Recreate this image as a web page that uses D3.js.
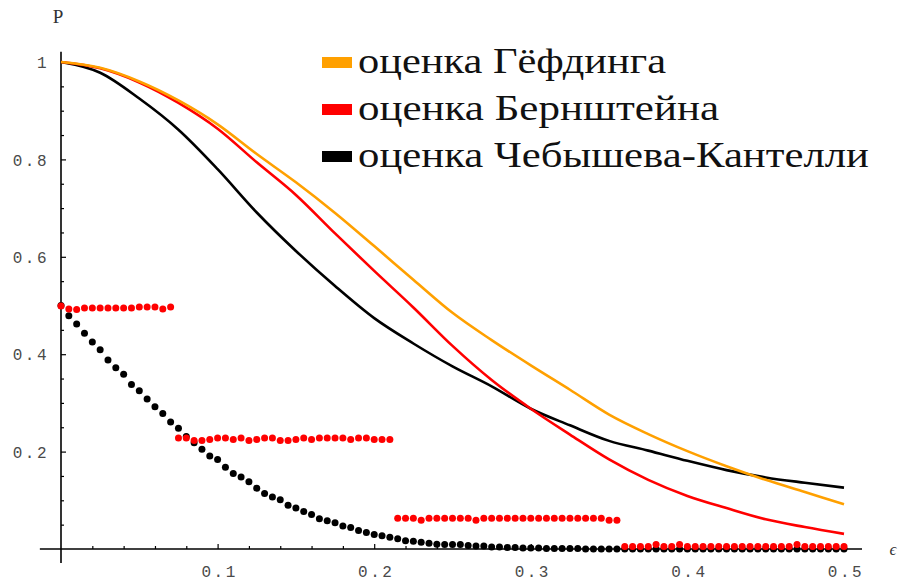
<!DOCTYPE html>
<html>
<head>
<meta charset="utf-8">
<script src="https://cdn.jsdelivr.net/npm/d3@7"></script>
<style>
  body { margin: 0; background: #fff; }
  svg { display: block; }
  .tick text { font-family: "Liberation Mono", "DejaVu Sans Mono", monospace; font-size: 16px; letter-spacing: 2.5px; fill: #4a4a4a; }
</style>
</head>
<body>
<svg id="chart" width="903" height="586"></svg>
<script>
// Bound curves, sampled every 0.025 in epsilon
const epsGrid = [0, 0.025, 0.05, 0.075, 0.1, 0.125, 0.15, 0.175, 0.2, 0.225, 0.25,
                 0.275, 0.3, 0.325, 0.35, 0.375, 0.4, 0.425, 0.45, 0.475, 0.5];
const hoeffding = [1.000, 0.988, 0.960, 0.921, 0.872, 0.811, 0.753, 0.690, 0.622, 0.553, 0.485,
                   0.429, 0.377, 0.327, 0.276, 0.236, 0.201, 0.170, 0.142, 0.117, 0.092];
const bernstein = [1.000, 0.987, 0.958, 0.916, 0.863, 0.794, 0.727, 0.648, 0.571, 0.496, 0.417,
                   0.347, 0.288, 0.235, 0.184, 0.142, 0.109, 0.084, 0.061, 0.045, 0.031];
const cantelli  = [1.000, 0.978, 0.925, 0.861, 0.780, 0.691, 0.612, 0.540, 0.474, 0.422, 0.375,
                   0.334, 0.288, 0.254, 0.222, 0.202, 0.181, 0.162, 0.147, 0.136, 0.126];

// Observed probabilities, sampled every 0.005 in epsilon (101 points)
const dotStep = 0.005;
const blackDots = [
  0.500, 0.479, 0.462, 0.443, 0.425, 0.409, 0.388, 0.372, 0.359, 0.338,
  0.325, 0.308, 0.292, 0.278, 0.261, 0.248, 0.231, 0.218, 0.205, 0.191,
  0.184, 0.168, 0.155, 0.148, 0.138, 0.125, 0.114, 0.107, 0.101, 0.090,
  0.084, 0.077, 0.071, 0.062, 0.058, 0.054, 0.047, 0.044, 0.038, 0.034,
  0.030, 0.027, 0.024, 0.021, 0.017, 0.016, 0.014, 0.012, 0.010, 0.009,
  0.009, 0.009, 0.007, 0.006, 0.006, 0.004, 0.004, 0.003, 0.003, 0.002,
  0.002, 0.002, 0.001, 0.001, 0.001, 0.001, 0.001, 0, 0, 0,
  0, 0, 0, 0, 0, 0, 0, 0, 0, 0,
  0, 0, 0, 0, 0, 0, 0, 0, 0, 0,
  0, 0, 0, 0, 0, 0, 0, 0, 0, 0,
  0
];
const redDots = [
  0.499, 0.493, 0.492, 0.495, 0.495, 0.495, 0.495, 0.495, 0.495, 0.495,
  0.497, 0.497, 0.497, 0.493, 0.497,
  0.228, 0.228, 0.223, 0.223, 0.225, 0.228, 0.228, 0.225, 0.228, 0.223,
  0.225, 0.228, 0.228, 0.223, 0.223, 0.225, 0.228, 0.225, 0.228, 0.228,
  0.228, 0.228, 0.225, 0.228, 0.228, 0.225, 0.225, 0.225,
  0.063, 0.063, 0.063, 0.059, 0.063, 0.063, 0.063, 0.063, 0.063, 0.063,
  0.059, 0.063, 0.063, 0.063, 0.063, 0.063, 0.063, 0.063, 0.063, 0.063,
  0.063, 0.063, 0.063, 0.063, 0.063, 0.063, 0.063, 0.059, 0.059,
  0.005, 0.005, 0.005, 0.005, 0.009, 0.005, 0.005, 0.009, 0.005, 0.005,
  0.005, 0.005, 0.005, 0.005, 0.005, 0.005, 0.005, 0.005, 0.005, 0.005,
  0.005, 0.005, 0.009, 0.005, 0.005, 0.005, 0.005, 0.005, 0.005
];

const xTickValues = [0.1, 0.2, 0.3, 0.4, 0.5];
const xTickLabels = ["0.1", "0.2", "0.3", "0.4", "0.5"];
const yTickValues = [0.2, 0.4, 0.6, 0.8, 1];
const yTickLabels = ["0.2", "0.4", "0.6", "0.8", "1"];
const legendLabels = ["оценка Гёфдинга", "оценка Бернштейна", "оценка Чебышева-Кантелли"];
const seriesColors = ["#ffa000", "#ff0000", "#000000"];

const svg = d3.select("#chart");
const x = d3.scaleLinear().domain([0, 0.5]).range([61, 844]);
const y = d3.scaleLinear().domain([0, 1]).range([549, 62]);

// Axis lines (Mathematica-style crossing axes)
const axisG = svg.append("g").attr("stroke", "#000").attr("stroke-width", 1.6);
axisG.append("line").attr("x1", x(-0.0135)).attr("x2", x(0.5115)).attr("y1", y(0)).attr("y2", y(0));
axisG.append("line").attr("x1", x(0)).attr("x2", x(0)).attr("y1", y(-0.029)).attr("y2", y(1.021));

// Minor ticks
const xMinor = d3.range(1, 25).map(i => i * 0.02).filter(v => Math.abs(v * 10 - Math.round(v * 10)) > 1e-6);
const yMinor = d3.range(1, 20).map(i => i * 0.05).filter(v => Math.abs(v * 5 - Math.round(v * 5)) > 1e-6);

const xMinorAxis = d3.axisBottom(x).tickValues(xMinor).tickFormat("").tickSizeInner(-3).tickSizeOuter(0);
const yMinorAxis = d3.axisLeft(y).tickValues(yMinor).tickFormat("").tickSizeInner(-3).tickSizeOuter(0);
const xMajorAxis = d3.axisBottom(x).tickValues(xTickValues)
  .tickFormat((d, i) => xTickLabels[i]).tickSizeInner(-5).tickSizeOuter(0).tickPadding(17);
const yMajorAxis = d3.axisLeft(y).tickValues(yTickValues)
  .tickFormat((d, i) => yTickLabels[i]).tickSizeInner(-5).tickSizeOuter(0).tickPadding(12);

function drawAxis(axis, transform) {
  const g = svg.append("g").attr("transform", transform).call(axis);
  g.select(".domain").remove();
  g.selectAll(".tick line").attr("stroke", "#000").attr("stroke-width", 1.2);
  g.attr("font-family", null).attr("font-size", null);
  return g;
}
drawAxis(xMinorAxis, `translate(0,${y(0)})`);
drawAxis(yMinorAxis, `translate(${x(0)},0)`);
const gx = drawAxis(xMajorAxis, `translate(0,${y(0)})`);
const gy = drawAxis(yMajorAxis, `translate(${x(0)},0)`);
gx.selectAll(".tick text").attr("dx", "1.5px");
gy.selectAll(".tick text").attr("dy", "0.36em");

// Axis labels
svg.append("text").attr("x", x(0) - 3).attr("y", 23)
  .attr("text-anchor", "middle")
  .style("font-family", "'Liberation Serif', serif").style("font-size", "19px").style("fill", "#333")
  .text("P");
svg.append("text").attr("x", 893).attr("y", 555)
  .attr("text-anchor", "middle")
  .style("font-family", "'Liberation Serif', serif").style("font-style", "italic")
  .style("font-size", "17px").style("fill", "#333")
  .text("ϵ");

// Curves
const curveData = [hoeffding, bernstein, cantelli];
const line = d3.line().x((d, i) => x(epsGrid[i])).y(d => y(d)).curve(d3.curveMonotoneX);
const drawOrder = [2, 1, 0];
svg.append("g").selectAll("path").data(drawOrder).join("path")
  .attr("d", k => line(curveData[k]))
  .attr("fill", "none")
  .attr("stroke", k => seriesColors[k])
  .attr("stroke-width", 2.6)
  .attr("stroke-linejoin", "round");

// Point series
function drawDots(values, color) {
  svg.append("g").selectAll("circle").data(values).join("circle")
    .attr("cx", (d, i) => x(i * dotStep))
    .attr("cy", d => y(d))
    .attr("r", 3.5)
    .attr("fill", color);
}
drawDots(blackDots, "#000");
drawDots(redDots, "#ff0000");

// Legend
const legendTop = 62.5, legendGap = 47;
const textWidths = [308, 361, 511];
const lg = svg.append("g");
legendLabels.forEach((label, i) => {
  const cy = legendTop + i * legendGap;
  lg.append("rect").attr("x", 322).attr("y", cy - 5.5).attr("width", 30).attr("height", 11)
    .attr("fill", seriesColors[i]);
  lg.append("text").attr("x", 358).attr("y", cy + 10)
    .attr("textLength", textWidths[i]).attr("lengthAdjust", "spacingAndGlyphs")
    .style("font-family", "'Liberation Serif', 'DejaVu Serif', serif")
    .style("font-size", "36px").style("fill", "#111")
    .text(label);
});
</script>
</body>
</html>
